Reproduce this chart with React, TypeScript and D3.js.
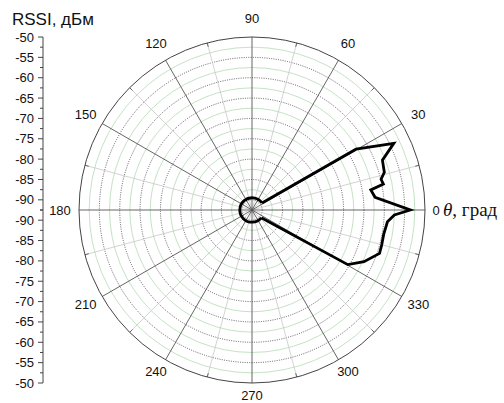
import React from "react";
import * as d3 from "d3";

const width = 504;
const height = 403;
const cx = 252; // polar centre
const cy = 210;
const outerR = 173;
const labelR = 192;

// radial axis (dBm), centre of the plot is the low end
const rssiMin = -92.5;
const rssiMax = -50;
const dottedLevels = [-55, -60, -65, -70, -75, -80, -85, -90];
const greenLevels = [-52.5, -57.5, -62.5, -67.5, -72.5, -77.5, -82.5, -87.5];
const angleLabels = [0, 30, 60, 90, 120, 150, 180, 210, 240, 270, 300, 330];
const minorAngles = [15, 45, 75, 105, 135, 165, 195, 225, 255, 285, 315, 345];
const sideTicks = [-50, -55, -60, -65, -70, -75, -80, -85, -90];
const sideMinor = [-52.5, -57.5, -62.5, -67.5, -72.5, -77.5, -82.5, -87.5, -92.5];

// measured pattern (deg, dBm); outside the lobe the level sits at the floor
const lobeAngles = [35, 30.3, 25.2, 20.9, 15.9, 13.4, 11.2, 9.6, 5.9, 0, -2, -5, -10.5, -15.1, -18.8, -24.8, -29.7, -40];
const lobeRssi = [-89.5, -62.9, -54.0, -58.2, -58.7, -59.9, -59.6, -62.9, -62.1, -53.6, -57.5, -59.1, -59.6, -59.5, -59.4, -62.2, -65.4, -89.5];
const floorRssi = -89.5;

const r = d3.scaleLinear().domain([rssiMin, rssiMax]).range([0, outerR]);
const yTop = d3.scaleLinear().domain([rssiMax, rssiMin]).range([cy - outerR, cy]);
const yBottom = d3.scaleLinear().domain([rssiMin, rssiMax]).range([cy, cy + outerR]);

const rad = (deg: number) => (deg * Math.PI) / 180;
const px = (deg: number, rr: number) => cx + rr * Math.cos(rad(deg));
const py = (deg: number, rr: number) => cy - rr * Math.sin(rad(deg));

const sans = "Arial, 'Liberation Sans', sans-serif";
const serif = "'Times New Roman', 'Liberation Serif', serif";

const App = () => {
  const lobe = d3
    .lineRadial<number>()
    .angle((_, i) => rad(90 - lobeAngles[i]))
    .radius((d) => r(d))(lobeRssi);
  const floorArc = d3.arc()({
    innerRadius: r(floorRssi),
    outerRadius: r(floorRssi),
    startAngle: rad(90 - 320),
    endAngle: rad(90 - 35),
  } as any);

  return (
    <svg
      width={width}
      height={height}
      style={{ position: "absolute", left: 0, top: 0, background: "#fff" }}
    >
      {/* grid circles */}
      {greenLevels.map((v) => (
        <circle key={"g" + v} cx={cx} cy={cy} r={r(v)} fill="none" stroke="#b5dbb5" strokeWidth={0.8} />
      ))}
      {dottedLevels.map((v) => (
        <circle
          key={"d" + v}
          cx={cx}
          cy={cy}
          r={r(v)}
          fill="none"
          stroke="#222"
          strokeWidth={0.7}
          strokeDasharray="1,1.3"
        />
      ))}
      {/* spokes */}
      {minorAngles.map((a) => (
        <line key={"m" + a} x1={cx} y1={cy} x2={px(a, outerR)} y2={py(a, outerR)} stroke="#c8c8c8" strokeWidth={0.8} />
      ))}
      {angleLabels.map((a) => (
        <line key={"s" + a} x1={cx} y1={cy} x2={px(a, outerR)} y2={py(a, outerR)} stroke="#555" strokeWidth={0.9} />
      ))}
      {minorAngles.map((a) => (
        <line
          key={"t" + a}
          x1={px(a, outerR - 4)}
          y1={py(a, outerR - 4)}
          x2={px(a, outerR)}
          y2={py(a, outerR)}
          stroke="#555"
          strokeWidth={0.9}
        />
      ))}
      <circle cx={cx} cy={cy} r={outerR} fill="none" stroke="#444" strokeWidth={1} />

      {/* pattern */}
      <g transform={`translate(${cx},${cy})`} fill="none" stroke="#000" strokeWidth={2.8}>
        <path d={lobe || ""} strokeLinejoin="miter" />
        <path d={floorArc || ""} />
      </g>

      {/* angle labels */}
      {angleLabels
        .filter((a) => a !== 0)
        .map((a) => {
          const s = Math.sin(rad(a));
          return (
            <text
              key={"l" + a}
              x={px(a, labelR)}
              y={py(a, labelR) - (s < 0 ? 7 * s * s : 0)}
              textAnchor="middle"
              dominantBaseline="central"
              fontFamily={sans}
              fontSize={13}
              fill="#111"
            >
              {a}
            </text>
          );
        })}
      <text x={436} y={cy} textAnchor="middle" dominantBaseline="central" fontFamily={sans} fontSize={13} fill="#111">
        0
      </text>
      <text x={443} y={cy + 6} fontFamily={serif} fontSize={19} fill="#111">
        <tspan fontStyle="italic">θ</tspan>, град
      </text>

      {/* side RSSI axis */}
      <line x1={43} y1={cy - outerR} x2={43} y2={cy + outerR} stroke="#444" strokeWidth={1} />
      {sideTicks.map((v) => (
        <g key={"st" + v}>
          <line x1={38} x2={43} y1={yTop(v)} y2={yTop(v)} stroke="#444" />
          <line x1={38} x2={43} y1={yBottom(v)} y2={yBottom(v)} stroke="#444" />
          <text x={34} y={yTop(v)} textAnchor="end" dominantBaseline="central" fontFamily={sans} fontSize={13} fill="#111">
            {v}
          </text>
          <text x={34} y={yBottom(v)} textAnchor="end" dominantBaseline="central" fontFamily={sans} fontSize={13} fill="#111">
            {v}
          </text>
        </g>
      ))}
      {sideMinor.map((v) => (
        <g key={"sm" + v}>
          <line x1={40} x2={43} y1={yTop(v)} y2={yTop(v)} stroke="#444" />
          <line x1={40} x2={43} y1={yBottom(v)} y2={yBottom(v)} stroke="#444" />
        </g>
      ))}
      <text x={12} y={25} fontFamily={sans} fontSize={17} fill="#111">
        RSSI, дБм
      </text>
    </svg>
  );
};

export default App;
